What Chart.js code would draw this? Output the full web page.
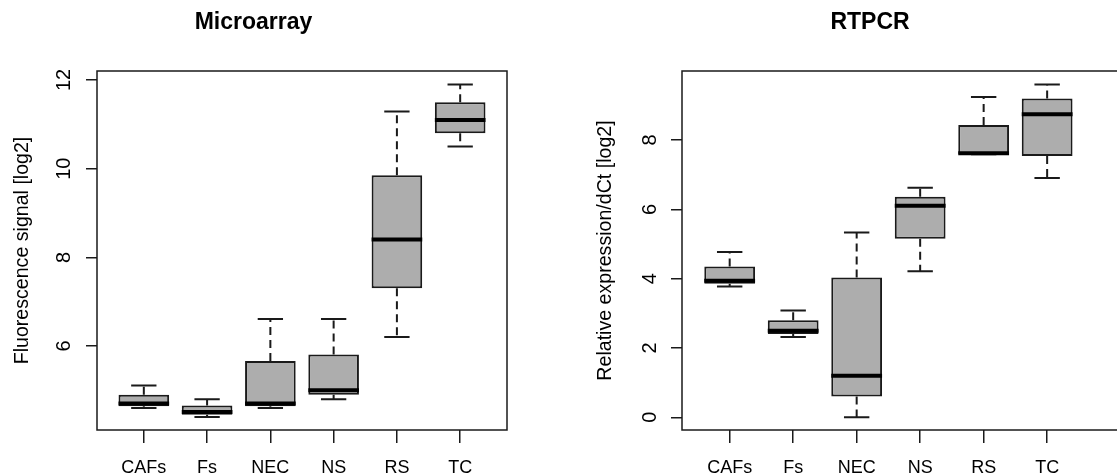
<!DOCTYPE html>
<html>
<head>
<meta charset="utf-8">
<script src="https://cdn.jsdelivr.net/npm/chart.js@4"></script>
<style>
html,body{margin:0;padding:0;background:#fff}
body{width:1117px;height:476px;overflow:hidden;position:relative}
canvas{position:absolute;top:0}
#micro{left:0}
#rtpcr{left:590px}
</style>
</head>
<body>
<canvas id="micro" width="646" height="476"></canvas>
<canvas id="rtpcr" width="640" height="476"></canvas>
<script>

/* GROUPS */

const groups=["CAFs","Fs","NEC","NS","RS","TC"]

/* MICROARRAY (log2 fluorescence) */

const microMin=[4.60,4.40,4.60,4.80,6.20,10.50]
const microQ1=[4.64,4.45,4.64,4.90,7.30,10.80]
const microMedian=[4.70,4.51,4.70,5.00,8.40,11.10]
const microQ3=[4.90,4.66,5.66,5.81,9.85,11.50]
const microMax=[5.11,4.80,6.61,6.61,11.29,11.90]
const microTicks=[6,8,10,12]

/* RTPCR (relative expression / dCt, log2) */

const rtMin=[3.77,2.32,0.00,4.21,7.59,6.90]
const rtQ1=[3.85,2.40,0.60,5.15,7.59,7.54]
const rtMedian=[3.94,2.50,1.20,6.10,7.62,8.74]
const rtQ3=[4.35,2.80,4.03,6.36,8.43,9.20]
const rtMax=[4.77,3.08,5.33,6.62,9.24,9.60]
const rtTicks=[0,2,4,6,8]


Chart.defaults.font.family='"Liberation Sans", Arial, Helvetica, sans-serif'
Chart.defaults.color="#000"


/* WHISKERS, MEDIANS AND FRAME */

function boxParts(stats){
return {
id:"boxParts",
afterDatasetsDraw(chart){
const {ctx,chartArea,scales:{x,y}}=chart
const meta=chart.getDatasetMeta(0)
ctx.save()
ctx.strokeStyle="#1a1a1a"
stats.median.forEach((m,i)=>{
const xc=x.getPixelForValue(i+1)
const half=meta.data[i].width/2
const cap=half/2
/* dashed whiskers */
ctx.lineWidth=2
ctx.setLineDash([8,5])
ctx.beginPath()
ctx.moveTo(xc,y.getPixelForValue(stats.q3[i]))
ctx.lineTo(xc,y.getPixelForValue(stats.max[i]))
ctx.moveTo(xc,y.getPixelForValue(stats.q1[i]))
ctx.lineTo(xc,y.getPixelForValue(stats.min[i]))
ctx.stroke()
/* staples */
ctx.setLineDash([])
ctx.beginPath()
ctx.moveTo(xc-cap,y.getPixelForValue(stats.max[i]))
ctx.lineTo(xc+cap,y.getPixelForValue(stats.max[i]))
ctx.moveTo(xc-cap,y.getPixelForValue(stats.min[i]))
ctx.lineTo(xc+cap,y.getPixelForValue(stats.min[i]))
ctx.stroke()
/* median */
ctx.lineWidth=4
ctx.strokeStyle="#000"
ctx.beginPath()
ctx.moveTo(xc-half,y.getPixelForValue(m))
ctx.lineTo(xc+half,y.getPixelForValue(m))
ctx.stroke()
ctx.strokeStyle="#1a1a1a"
})
/* plot frame */
ctx.lineWidth=1.5
ctx.strokeRect(chartArea.left,chartArea.top,chartArea.right-chartArea.left,chartArea.bottom-chartArea.top)
ctx.restore()
}
}
}


/* BUILD ONE PANEL */

function boxChart(id,cfg){

const stats={min:cfg.min,q1:cfg.q1,median:cfg.median,q3:cfg.q3,max:cfg.max}

return new Chart(document.getElementById(id),{

type:"bar",

data:{
datasets:[{
data:groups.map((g,i)=>({x:i+1,y:[cfg.q1[i],cfg.q3[i]]})),
backgroundColor:"#adadad",
borderColor:"#1a1a1a",
borderWidth:2,
borderSkipped:false,
barPercentage:0.8,
categoryPercentage:1
}]
},

options:{
responsive:false,
animation:false,
devicePixelRatio:1,
layout:{padding:{left:0,right:cfg.padRight,top:0,bottom:0}},

plugins:{
legend:{display:false},
tooltip:{enabled:false},
title:{
display:true,
text:cfg.title,
font:{size:23,weight:"bold"},
color:"#000",
padding:{top:9,bottom:34.4}
}
},

scales:{
x:{
type:"linear",
offset:false,
min:cfg.xMin,
max:cfg.xMax,
afterBuildTicks:s=>{s.ticks=groups.map((g,i)=>({value:i+1}))},
afterFit:s=>{s.height=46},
ticks:{
callback:v=>groups[v-1],
font:{size:18},
padding:14,
autoSkip:false,
maxRotation:0
},
grid:{offset:false,drawOnChartArea:false,drawTicks:true,tickLength:13,color:"#1a1a1a",lineWidth:1.5},
border:{display:false}
},
y:{
min:cfg.yMin,
max:cfg.yMax,
afterBuildTicks:s=>{s.ticks=cfg.ticks.map(v=>({value:v}))},
afterFit:s=>{s.width=cfg.axisWidth},
ticks:{
font:{size:20},
minRotation:90,
maxRotation:90,
crossAlign:"center",
padding:cfg.tickPad
},
grid:{drawOnChartArea:false,drawTicks:true,tickLength:11,color:"#1a1a1a",lineWidth:1.5},
border:{display:false},
title:{
display:true,
text:cfg.yTitle,
font:{size:19.6},
color:"#000",
padding:{top:cfg.titlePad,bottom:0}
}
}
}
},

plugins:[boxParts(stats)]

})

}


/* LEFT PANEL */

boxChart("micro",{
title:"Microarray",
yTitle:"Fluorescence signal [log2]",
min:microMin,q1:microQ1,median:microMedian,q3:microQ3,max:microMax,
ticks:microTicks,
yMin:4.105,yMax:12.203,
xMin:0.26,xMax:6.74,
axisWidth:97,padRight:139,tickPad:10,titlePad:11
})


/* RIGHT PANEL */

boxChart("rtpcr",{
title:"RTPCR",
yTitle:"Relative expression/dCt [log2]",
min:rtMin,q1:rtQ1,median:rtMedian,q3:rtQ3,max:rtMax,
ticks:rtTicks,
yMin:-0.366,yMax:9.99,
xMin:0.249,xMax:7.62,
axisWidth:92,padRight:80,tickPad:15,titlePad:4
})

</script>
</body>
</html>
